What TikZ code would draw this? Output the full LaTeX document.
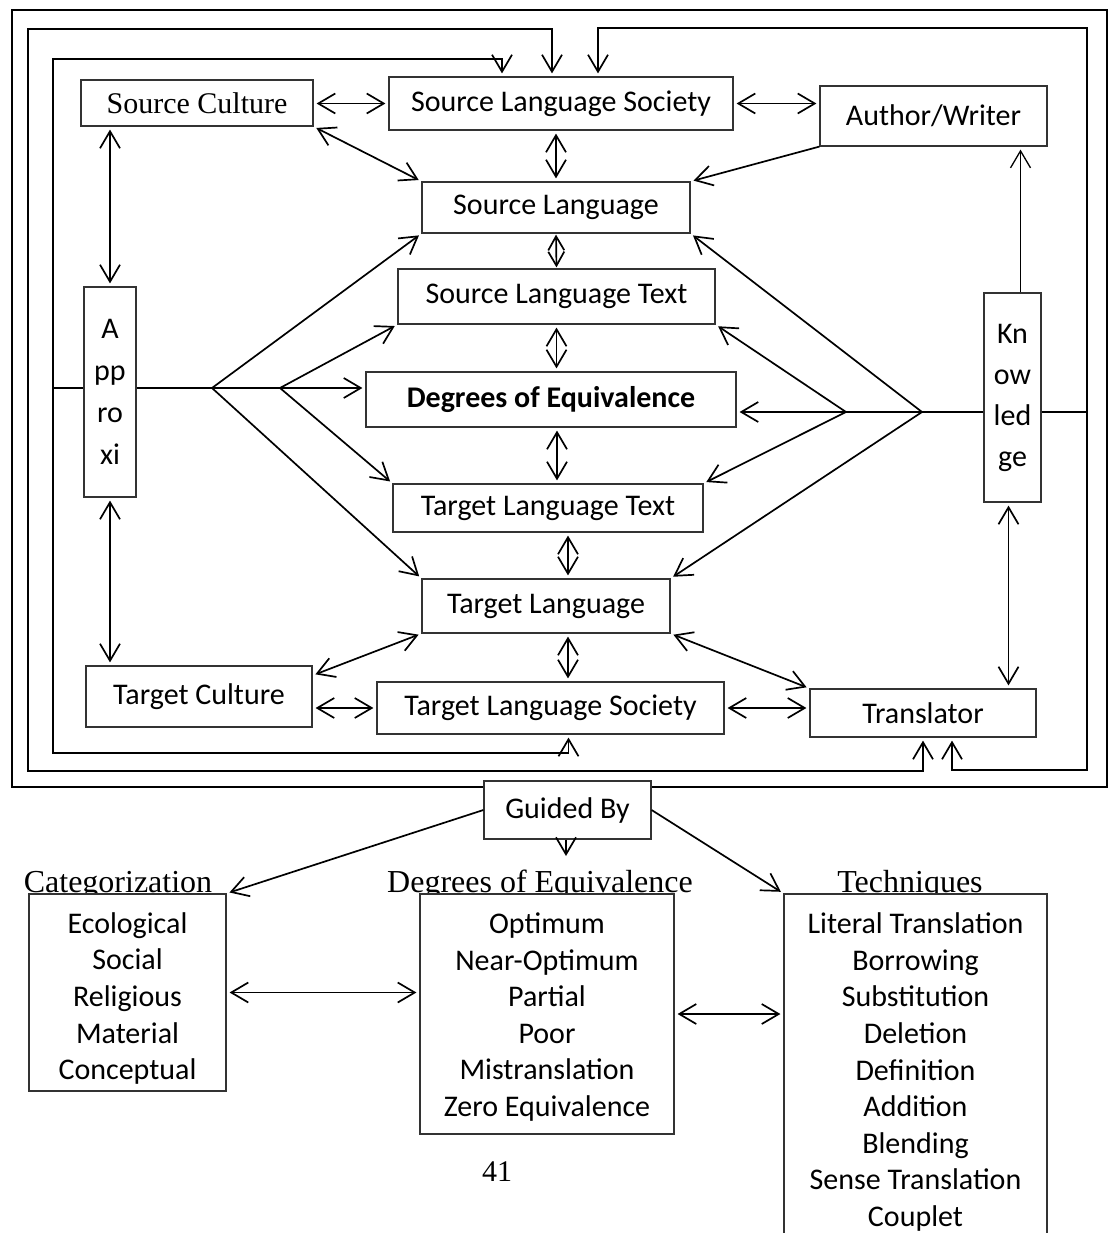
\documentclass[tikz,border=0pt]{standalone}
\usepackage{fontspec}
\setmainfont{Carlito}
\newfontfamily\tnr{Liberation Serif}
\usetikzlibrary{arrows.meta}

\begin{document}
\begin{tikzpicture}[x=1pt, y=-1pt,
  every node/.style={font=\fontsize{30}{36.6}\selectfont},
  blk/.style={draw=black!80, line width=1.2pt, fill=white, inner sep=0pt},
  ttl/.style={font=\fontsize{32}{38}\selectfont\tnr, anchor=base, inner sep=0pt},
  dbl/.style={{Straight Barb[length=17pt,width=20pt]}-{Straight Barb[length=17pt,width=20pt]}, line width=1.7pt, shorten <=3pt, shorten >=3pt},
  sgl/.style={-{Straight Barb[length=17pt,width=20pt]}, line width=1.7pt, shorten >=3pt},
  wire/.style={line width=1.7pt},
]
  \useasboundingbox (0,0) rectangle (1112,1233);

  % outer frame
  \draw[wire] (12,10) rectangle (1107,787);

  % upper diagram
  \node[blk, minimum width=232pt, minimum height=46pt] (sc) at (197,103) {\tnr Source Culture};
  \node[blk, minimum width=344pt, minimum height=53pt] (sls) at (561,103.5) {Source Language Society};
  \node[blk, minimum width=227pt, minimum height=60pt] (aw) at (933.5,116) {Author/Writer};
  \node[blk, minimum width=268pt, minimum height=51pt] (sl) at (556,207.5) {Source Language};
  \node[blk, minimum width=317pt, minimum height=55pt] (slt) at (556.5,296.5) {Source Language Text};
  \node[blk, minimum width=370pt, minimum height=55pt] (deg) at (551,399.5) {\bfseries Degrees of Equivalence};
  \node[blk, minimum width=310pt, minimum height=48pt] (tlt) at (548,508) {Target Language Text};
  \node[blk, minimum width=248pt, minimum height=54pt] (tl) at (546,606) {Target Language};
  \node[blk, minimum width=226pt, minimum height=61pt] (tc) at (199,696.5) {Target Culture};
  \node[blk, minimum width=347pt, minimum height=52pt] (tls) at (550.5,708) {Target Language Society};
  \node[blk, minimum width=226pt, minimum height=48pt] (tr) at (923,713) {Translator};
  \node[blk, minimum width=52pt, minimum height=210pt, align=center, font=\fontsize{30}{42}\selectfont] (apx) at (110,392) {A\\pp\\ro\\xi};
  \node[blk, minimum width=57pt, minimum height=209pt, align=center, font=\fontsize{30}{41}\selectfont] (kn) at (1012.5,397.5) {Kn\\ow\\led\\ge};

  \coordinate (v1) at (212,388);
  \coordinate (v2) at (280,388);
  \coordinate (v3) at (846,412);
  \coordinate (v4) at (922,412);

  % loops round the frame
  \draw[dbl] ([xshift=-9pt]sls.north) |- (28,29) -- (28,771) -| (tr.south);
  \draw[dbl] ([xshift=-59pt]sls.north) |- (53,59) -- (53,753) -| ([xshift=18pt]tls.south);
  \draw[dbl] ([xshift=37pt]sls.north) |- (1087,28) -- (1087,770) -| ([xshift=29pt]tr.south);
  \draw[wire] (53,388) -- (apx.west |- v1);
  \draw[wire] (apx.east |- v1) -- (v1) -- (v2);
  \draw[wire] (kn.east |- v4) -- (1087,412);
  \draw[wire] (kn.west |- v4) -- (v4) -- (v3);

  % links between the boxes
  \draw[dbl] (sc.east |- sls.west) -- (sls.west);
  \draw[dbl] (sls.east) -- (aw.west |- sls.east);
  \draw[dbl] (sc.south east) -- (sl.north west);
  \draw[dbl] (sl.north |- sls.south) -- (sl.north);
  \draw[sgl] (aw.south west) -- (sl.north east);
  \draw[dbl, {Straight Barb[length=14pt,width=16pt]}-{Straight Barb[length=14pt,width=16pt]}, shorten <=1pt, shorten >=1pt] (sl.south) -- (slt.north);
  \draw[dbl] (slt.south) -- (slt.south |- deg.north);
  \draw[dbl] ([xshift=6pt]deg.south) -- ([xshift=6pt]deg.south |- tlt.north);
  \draw[dbl] ([xshift=20pt]tlt.south) -- ([xshift=20pt]tlt.south |- tl.north);
  \draw[dbl] ([xshift=22pt]tl.south) -- ([xshift=22pt]tl.south |- tls.north);
  \draw[dbl] (tl.south west) -- ([yshift=-10pt]tc.north east);
  \draw[dbl] (tl.south east) -- (tr.north west);
  \draw[dbl] (tc.east |- tls.west) -- (tls.west);
  \draw[dbl] (tls.east) -- (tr.west |- tls.east);
  \draw[dbl] (apx.north |- sc.south) -- (apx.north);
  \draw[dbl] (apx.south) -- (apx.south |- tc.north);
  \draw[sgl, line width=1.3pt] ([xshift=8pt]kn.north) -- ([xshift=8pt]kn.north |- aw.south);
  \draw[dbl] ([xshift=-4pt]kn.south) -- ([xshift=-4pt]kn.south |- tr.north);

  % fans
  \draw[sgl] (v1) -- (sl.south west);
  \draw[sgl] (v1) -- (tl.north west);
  \draw[sgl] (v2) -- (slt.south west);
  \draw[sgl] (v2) -- (deg.west |- v2);
  \draw[sgl] (v2) -- (tlt.north west);
  \draw[sgl] (v4) -- (sl.south east);
  \draw[sgl] (v4) -- (tl.north east);
  \draw[sgl] (v3) -- (slt.south east);
  \draw[sgl] (v3) -- (deg.east |- v3);
  \draw[sgl] (v3) -- (tlt.north east);

  % lower part
  \node[blk, minimum width=167pt, minimum height=58pt] (gb) at (567.5,810) {Guided By};
  \node[ttl] (catt) at (118,892) {Categorization};
  \node[ttl] (dgt) at (540,892) {Degrees of Equivalence};
  \node[ttl] (techt) at (910,892) {Techniques};
  \node[blk, minimum width=197pt, minimum height=197pt, align=center] (cat) at (127.5,992.5)
    {\rule{0pt}{33pt}Ecological\\Social\\Religious\\Material\\Conceptual};
  \node[blk, minimum width=254pt, minimum height=240pt, align=center] (dgb) at (547,1014)
    {\rule{0pt}{27pt}Optimum\\Near-Optimum\\Partial\\Poor\\Mistranslation\\Zero Equivalence};
  \node[blk, minimum width=263pt, minimum height=356pt, align=center] (tech) at (915.5,1072)
    {Literal Translation\\Borrowing\\Substitution\\Deletion\\Definition\\Addition\\Blending\\Sense Translation\\Couplet};
  \coordinate (gbtip) at (566,859);

  \draw[sgl] (gb.west) -- (cat.north east);
  \draw[sgl] (gb.east) -- (tech.north west);
  \draw[sgl] (gb.south -| gbtip) -- (gbtip);
  \draw[dbl] (cat.east) -- (dgb.west |- cat.east);
  \draw[dbl] (dgb.east) -- (tech.west |- dgb.east);

  \node[font=\fontsize{30}{36}\selectfont\tnr] (pg) at (497,1172) {41};
\end{tikzpicture}
\end{document}
